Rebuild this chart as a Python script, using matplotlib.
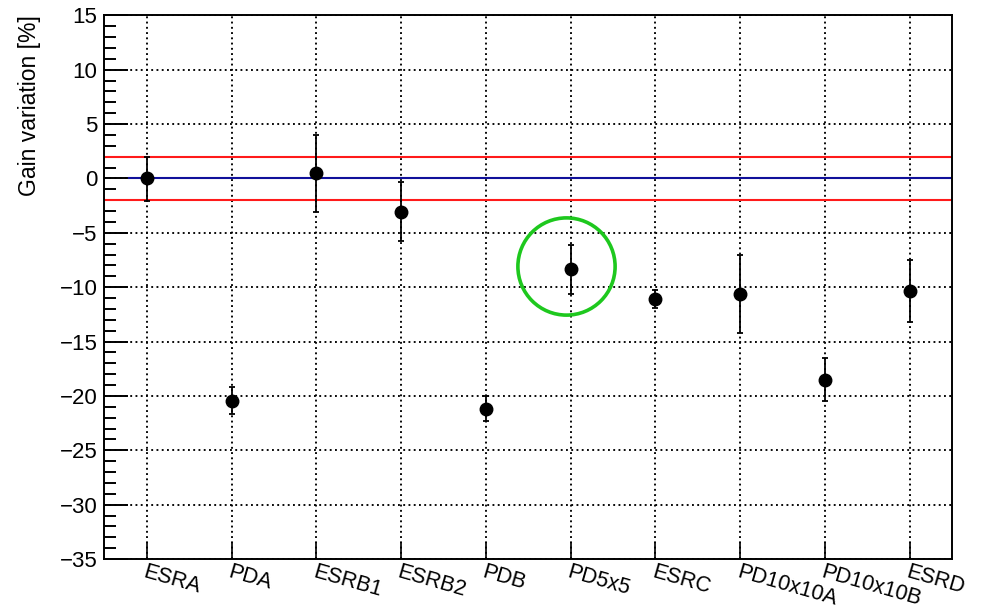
import matplotlib
matplotlib.use("Agg")
import matplotlib.pyplot as plt
import numpy as np
from matplotlib.ticker import MultipleLocator

plt.rcParams['font.family'] = ['Liberation Sans', 'DejaVu Sans']

# data
samples = ["ESRA", "PDA", "ESRB1", "ESRB2", "PDB", "PD5x5", "ESRC", "PD10x10A", "PD10x10B", "ESRD"]
gain = [0.0, -20.45, 0.48, -3.05, -21.2, -8.35, -11.07, -10.65, -18.52, -10.34]
err_up = [2.0, 1.25, 3.52, 2.73, 1.15, 2.25, 0.82, 3.62, 1.99, 2.84]
err_dn = [2.05, 1.25, 3.56, 2.69, 1.1, 2.29, 0.89, 3.58, 1.98, 2.86]
limits = [2.0, -2.0]
ref_level = 0.0
ref_start = -0.21
highlight = "PD5x5"
highlight_offset = [-0.06, 0.25]

x = np.arange(len(samples))

fig = plt.figure(figsize=(9.81, 6.09), dpi=100)
ax = fig.add_axes([0.1065, 0.0821, 0.864, 0.8928])

ax.set_xlim(-0.5, len(samples) - 0.5)
ax.set_ylim(-35, 15)

# grid
ax.grid(True, which='major', color='black', linestyle=(0, (1, 1.8)), linewidth=1.35)
ax.set_axisbelow(True)

# reference lines
for lv in limits:
    ax.axhline(lv, color='#ff1a1a', lw=1.5, zorder=2)
ax.plot([ref_start, len(samples) - 0.5], [ref_level, ref_level], color='#10109a', lw=1.5, zorder=2)

# points
ax.errorbar(x, gain, yerr=[err_dn, err_up], fmt='o', color='black', ms=9,
            elinewidth=1.3, capsize=2.5, capthick=1.3, zorder=4)

# highlight circle
hi = samples.index(highlight)
ax.plot([hi + highlight_offset[0]], [gain[hi] + highlight_offset[1]], marker='o', ms=70,
        mfc='none', mec='#1ec81e', mew=2.6, zorder=5, clip_on=False)

# axes style
ax.set_xticks(x)
ax.set_xticklabels(samples, rotation=-16, ha='left', va='top', rotation_mode='anchor', fontsize=15.5)
ax.yaxis.set_major_locator(MultipleLocator(5))
ax.yaxis.set_minor_locator(MultipleLocator(1))
ax.tick_params(axis='y', which='major', direction='in', length=17, width=1.4, labelsize=16, pad=5)
ax.tick_params(axis='y', which='minor', direction='in', length=8.5, width=1.4)
ax.tick_params(axis='x', which='major', direction='in', length=12, width=1.2, pad=2)
ax.tick_params(axis='x', which='minor', bottom=False)
ax.yaxis.set_major_formatter(matplotlib.ticker.FuncFormatter(lambda v, p: f"{v:.0f}".replace('-', '\u2212')))
for s in ax.spines.values():
    s.set_linewidth(1.4)

ax.set_ylabel("Gain variation [%]", fontsize=16.5)
ax.yaxis.set_label_coords(-0.089, 1.0)
ax.yaxis.label.set_ha('right')
ax.yaxis.label.set_va('center')

fig.savefig("out.png", dpi=100)
